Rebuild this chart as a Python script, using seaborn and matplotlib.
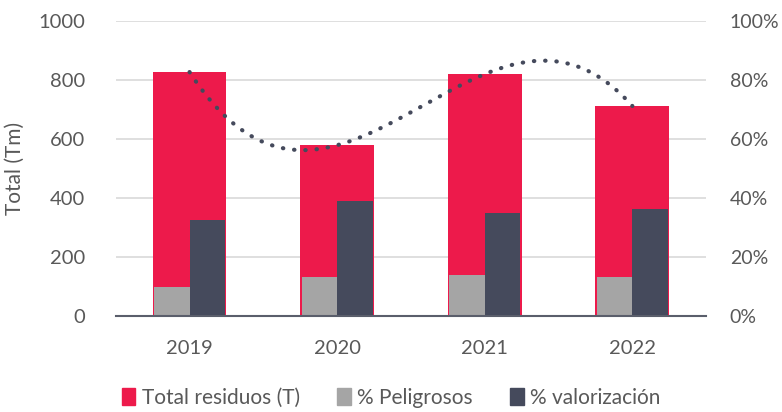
import numpy as np
import pandas as pd
import matplotlib
matplotlib.use("Agg")
import matplotlib.pyplot as plt
import seaborn as sns
from matplotlib.patches import Patch
from matplotlib.ticker import PercentFormatter

years = ["2019", "2020", "2021", "2022"]
total_residuos = [827, 579, 820, 712]
peligrosos = [99, 131, 138, 131]
valorizacion = [325, 390, 348, 363]

red = "#ED1A4B"
light = "#A5A5A5"
dark = "#454A5C"
txt = "#595959"

sns.set_style("white")
plt.rcParams["font.family"] = ["Lato", "DejaVu Sans"]

fig = plt.figure(figsize=(7.82, 4.12), dpi=100)
ax = fig.add_axes([0.148, 0.233, 0.755, 0.716])

sns.barplot(x=years, y=total_residuos, color=red, width=0.5, saturation=1,
            linewidth=0, ax=ax, zorder=2)

sub = pd.DataFrame({
    "year": years * 2,
    "value": peligrosos + valorizacion,
    "serie": ["% Peligrosos"] * 4 + ["% valorización"] * 4,
})
sns.barplot(data=sub, x="year", y="value", hue="serie", width=0.48,
            palette=[light, dark], saturation=1, linewidth=0, ax=ax,
            zorder=3, legend=False)

ax.set_ylim(0, 1000)
ax.set_yticks(range(0, 1001, 200))
ax.set_xlim(-0.5, 3.5)
ax.grid(axis="y", color="#D9D9D9", linewidth=1.2, zorder=0)
ax.set_axisbelow(True)
for s in ["top", "right", "left"]:
    ax.spines[s].set_visible(False)
ax.spines["bottom"].set_color("#5A5E6B")
ax.spines["bottom"].set_linewidth(1.5)
ax.spines["bottom"].set_zorder(5)
ax.tick_params(axis="both", length=0, labelsize=14.5, colors=txt)
ax.tick_params(axis="y", pad=22)
ax.tick_params(axis="x", pad=17)
ax.set_xlabel("")
ax.set_ylabel("Total (Tm)", fontsize=15, color=txt, labelpad=10)

# polynomial trendline (order 3) of total residuos on secondary axis
ax2 = ax.twinx()
xi = np.arange(len(years))
coef = np.polyfit(xi, np.array(total_residuos) / 1000, 3)
xs = np.linspace(0, 3, 200)
ax2.plot(xs, np.polyval(coef, xs), color=dark, linestyle=(0, (0.1, 2.6)),
         linewidth=3, dash_capstyle="round", zorder=6)
ax2.set_ylim(0, 1)
ax2.set_yticks(np.arange(0, 1.01, 0.2))
ax2.yaxis.set_major_formatter(PercentFormatter(1.0, decimals=0))
for s in ["top", "right", "left", "bottom"]:
    ax2.spines[s].set_visible(False)
ax2.tick_params(axis="y", length=0, labelsize=14, colors=txt, pad=17)

handles = [Patch(color=red, label="Total residuos (T)"),
           Patch(color=light, label="% Peligrosos"),
           Patch(color=dark, label="% valorización")]
fig.legend(handles=handles, loc="center", bbox_to_anchor=(0.5, 0.035), ncol=3,
           frameon=False, fontsize=15, labelcolor=txt, handlelength=0.65,
           handleheight=0.85, handletextpad=0.3, columnspacing=1.8)

fig.savefig("out.png", dpi=100)
